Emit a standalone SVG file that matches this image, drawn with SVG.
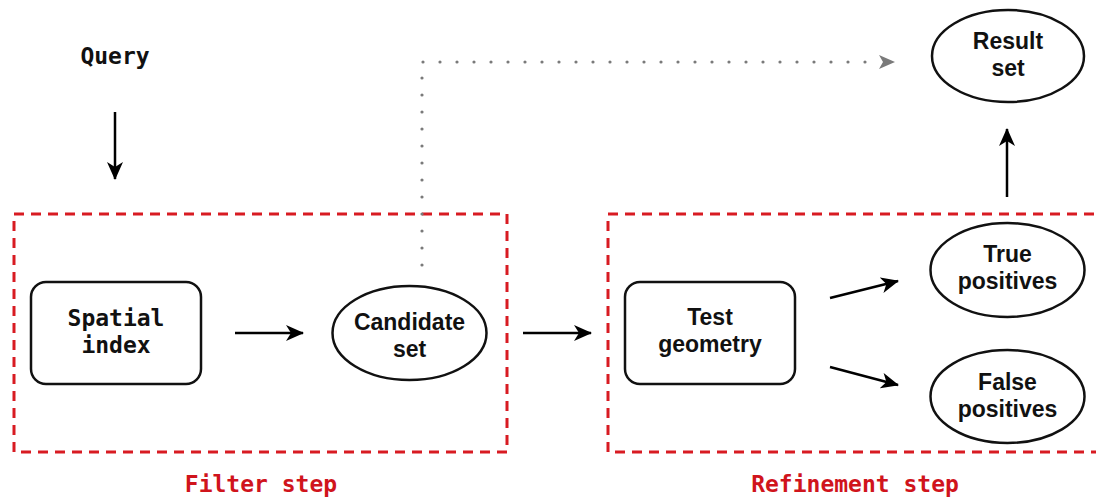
<svg xmlns="http://www.w3.org/2000/svg" width="1096" height="497" viewBox="0 0 1096 497">
<style>
.mono{font-family:"DejaVu Sans Mono","Liberation Mono",monospace;font-weight:bold;font-size:23px;text-anchor:middle;fill:#111}
.sans{font-family:"Liberation Sans",Arial,sans-serif;font-weight:bold;font-size:23px;text-anchor:middle;fill:#111}
.lbl{fill:#d0141c}
.node{fill:#fff;stroke:#111;stroke-width:2.5}
.grp{fill:none;stroke:#d81b22;stroke-width:3;stroke-dasharray:10 7}
.conn{stroke:#000;stroke-width:2.5;fill:none;marker-end:url(#ah)}
.dot{stroke:#7a7a7a;stroke-width:3.2;fill:none;stroke-linecap:round;stroke-dasharray:0 17;marker-end:url(#ahg)}
</style>
<defs>
<marker id="ah" markerWidth="18" markerHeight="16" viewBox="0 0 18 16" refX="17" refY="8" orient="auto" markerUnits="userSpaceOnUse">
<path d="M0,0 L18,8 L0,16 L5,8 z" fill="#000"/>
</marker>
<marker id="ahg" markerWidth="16" markerHeight="14" viewBox="0 0 16 14" refX="1" refY="7" orient="auto" markerUnits="userSpaceOnUse">
<path d="M0,0 L16,7 L0,14 L4,7 z" fill="#7a7a7a"/>
</marker>
</defs>
<g id="groups">
<rect class="grp" x="14" y="214" width="493" height="238"/>
<rect class="grp" x="608" y="214" width="510" height="238"/>
<text class="mono lbl" x="261" y="492">Filter step</text>
<text class="mono lbl" x="855" y="492">Refinement step</text>
</g>
<g id="connectors">
<line class="conn" x1="115" y1="112" x2="115" y2="179"/>
<line class="conn" x1="235" y1="333" x2="303" y2="333"/>
<line class="conn" x1="523" y1="333" x2="591" y2="333"/>
<line class="conn" x1="830" y1="298" x2="898" y2="281"/>
<line class="conn" x1="830" y1="367" x2="898" y2="385"/>
<line class="conn" x1="1007" y1="197" x2="1007" y2="129"/>
<path class="dot" d="M422,265 L422,62 L880,62"/>
</g>
<g id="query"><text class="mono" x="115" y="64">Query</text></g>
<g id="spatial-index">
<rect class="node" x="31" y="282" width="170" height="102" rx="15"/>
<text class="mono" x="116" y="326">Spatial</text>
<text class="mono" x="116" y="353">index</text>
</g>
<g id="candidate-set">
<ellipse class="node" cx="409.5" cy="333" rx="77" ry="47"/>
<text class="sans" x="409.5" y="330">Candidate</text>
<text class="sans" x="409.5" y="357">set</text>
</g>
<g id="test-geometry">
<rect class="node" x="625" y="282" width="170" height="102" rx="15"/>
<text class="sans" x="710" y="325">Test</text>
<text class="sans" x="710" y="352">geometry</text>
</g>
<g id="true-positives">
<ellipse class="node" cx="1007.5" cy="270" rx="77" ry="47"/>
<text class="sans" x="1007.5" y="262">True</text>
<text class="sans" x="1007.5" y="289">positives</text>
</g>
<g id="false-positives">
<ellipse class="node" cx="1007.5" cy="396.5" rx="77" ry="46.5"/>
<text class="sans" x="1007.5" y="390">False</text>
<text class="sans" x="1007.5" y="417">positives</text>
</g>
<g id="result-set">
<ellipse class="node" cx="1008" cy="56" rx="76" ry="46"/>
<text class="sans" x="1008" y="49">Result</text>
<text class="sans" x="1008" y="76">set</text>
</g>
</svg>
